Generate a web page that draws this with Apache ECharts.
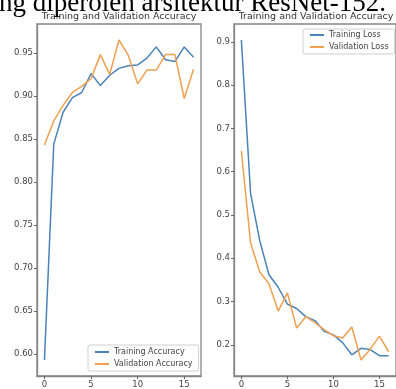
<!DOCTYPE html>
<html><head><meta charset="utf-8">
<script src="https://cdn.jsdelivr.net/npm/echarts@6/dist/echarts.min.js"></script>
<style>html,body{margin:0;padding:0;background:#fff;overflow:hidden}#c{width:396px;height:389px}</style>
</head><body><div id="c"></div>
<script>
const epochs = [0,1,2,3,4,5,6,7,8,9,10,11,12,13,14,15,16];
const trainAcc = [0.593,0.844,0.881,0.898,0.904,0.926,0.912,0.924,0.932,0.935,0.936,0.944,0.957,0.942,0.940,0.957,0.945];
const valAcc   = [0.843,0.871,0.889,0.904,0.911,0.920,0.948,0.925,0.965,0.947,0.914,0.930,0.930,0.948,0.948,0.897,0.931];
const trainLoss = [0.904,0.550,0.440,0.362,0.333,0.294,0.284,0.265,0.256,0.231,0.223,0.205,0.177,0.192,0.189,0.175,0.175];
const valLoss   = [0.648,0.435,0.368,0.341,0.278,0.320,0.239,0.265,0.251,0.235,0.221,0.216,0.241,0.165,0.190,0.220,0.184];
const xTicks = [0,5,10,15];
const accTicks = [0.60,0.65,0.70,0.75,0.80,0.85,0.90,0.95];
const lossTicks = [0.2,0.3,0.4,0.5,0.6,0.7,0.8,0.9];
const titles = ['Training and Validation Accuracy','Training and Validation Accuracy'];
const accLegend = ['Training Accuracy','Validation Accuracy'];
const lossLegend = ['Training Loss','Validation Loss'];
const headerText = 'ng diperoleh arsitektur ResNet-152.';

const BLUE = '#4a83b8', ORANGE = '#f0a04f';
const txt = '#444', spine = '#858585';
const F = 'DejaVu Sans';

function pts(ys){ return epochs.map((e,i)=>[e, ys[i]]); }
function xAx(g){
  return {type:'value', gridIndex:g, min:-0.8, max:16.8,
    splitLine:{show:false},
    axisLine:{show:true, onZero:false, lineStyle:{color:spine, width:1.3}},
    axisTick:{show:true, customValues:xTicks, length:3, lineStyle:{color:'#666'}},
    axisLabel:{customValues:xTicks, fontSize:8.5, fontFamily:F, color:txt, margin:4}};
}
function yAx(g, ticks, min, max, dec){
  return {type:'value', gridIndex:g, min:min, max:max,
    splitLine:{show:false},
    axisLine:{show:true, onZero:false, lineStyle:{color:spine, width:1.3}},
    axisTick:{show:true, customValues:ticks, length:3, lineStyle:{color:'#666'}},
    axisLabel:{customValues:ticks, fontSize:8.5, fontFamily:F, color:txt, margin:4,
      formatter:v=>Number(v).toFixed(dec)}};
}
function line(name, data, color, g){
  return {type:'line', name:name, xAxisIndex:g, yAxisIndex:g, data:pts(data),
    symbol:'none', lineStyle:{color:color, width:1.5}, itemStyle:{color:color}, animation:false};
}
const legendBase = {orient:'vertical', icon:'rect', itemWidth:14, itemHeight:2, itemGap:4,
  backgroundColor:'#fff', borderColor:'#cfcfcf', borderWidth:1, borderRadius:2,
  textStyle:{fontSize:8, fontFamily:F, color:txt}};

const chart = echarts.init(document.getElementById('c'), null, {renderer:'canvas'});
chart.setOption({
  animation:false,
  backgroundColor:'#fff',
  grid:[
    {left:37, top:24, width:164, height:353, show:true, borderColor:spine, borderWidth:1.3},
    {left:234, top:24, width:164, height:352, show:true, borderColor:spine, borderWidth:1.3}
  ],
  title:[
    {text:titles[0], left:119, top:12, textAlign:'center', padding:0,
      textStyle:{fontSize:9.5, fontWeight:'normal', fontFamily:F, color:'#333'}},
    {text:titles[1], left:316, top:12, textAlign:'center', padding:0,
      textStyle:{fontSize:9.5, fontWeight:'normal', fontFamily:F, color:'#333'}}
  ],
  legend:[
    Object.assign({}, legendBase, {data:accLegend, left:88, top:345, padding:[3,6,3,7]}),
    Object.assign({}, legendBase, {data:lossLegend, left:303, top:29, padding:[2,6,3,7]})
  ],
  xAxis:[xAx(0), xAx(1)],
  yAxis:[yAx(0, accTicks, 0.5744, 0.9836, 2), yAx(1, lossTicks, 0.128, 0.941, 1)],
  series:[
    line(accLegend[0], trainAcc, BLUE, 0),
    line(accLegend[1], valAcc, ORANGE, 0),
    line(lossLegend[0], trainLoss, BLUE, 1),
    line(lossLegend[1], valLoss, ORANGE, 1)
  ],
  graphic:[
    {type:'text', left:-1, top:-10, z:100, style:{text:headerText, font:'27px "Liberation Serif"', fill:'#000'}}
  ]
});
</script></body></html>
